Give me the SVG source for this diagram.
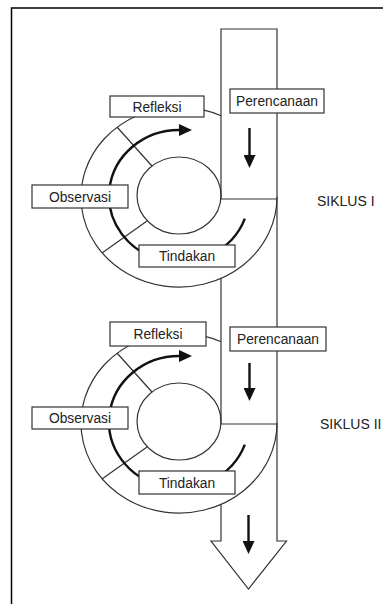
<svg xmlns="http://www.w3.org/2000/svg" width="383" height="604" viewBox="0 0 383 604">
<style>
.ln{fill:none;stroke:#333;stroke-width:1.2}
.box{fill:#fff;stroke:#333;stroke-width:1.2}
.txt{font-family:"Liberation Sans",Arial,sans-serif;font-size:13.8px;fill:#222;text-anchor:middle}
.lab{font-family:"Liberation Sans",Arial,sans-serif;font-size:14px;fill:#222}
.thick{fill:none;stroke:#111;stroke-width:2.4}
</style>
<defs>
<marker id="ah" viewBox="0 0 13 12" refX="0" refY="6" markerWidth="13" markerHeight="12" markerUnits="userSpaceOnUse" orient="auto">
<path d="M0,0 L13,6 L0,12 z" fill="#111"/>
</marker>
</defs>
<rect x="0" y="0" width="383" height="604" fill="#fff"/>
<path d="M11.5 604 V8 H383" fill="none" stroke="#000" stroke-width="1.5"/>
<g id="band" class="ln">
<path d="M221 199 V29 H277 V541 H286.5 L248.5 589 L211 541 H221 V504.3"/>
<path d="M221 278 V424"/>
<path d="M221 199 H277"/>
<path d="M221 424 H277"/>
</g>
<g id="cycle1-ring" class="ln">
<path d="M221 115.7 A98 90 0 1 0 277 197"/>
<ellipse cx="179" cy="195.5" rx="42" ry="38.5"/>
<path d="M117 127 L152 166"/>
<path d="M102 253 L147 221"/>
</g>
<g id="cycle2-ring" class="ln">
<path d="M221 341.7 A98 90 0 1 0 277 423"/>
<ellipse cx="179" cy="421.5" rx="42" ry="38.5"/>
<path d="M117 353 L152 392"/>
<path d="M102 479 L147 447"/>
</g>
<g id="connectors">
<path class="thick" d="M244.8 218.6 A70 66 0 1 1 179 130" marker-end="url(#ah)"/>
<path class="thick" d="M244.8 444.6 A70 66 0 1 1 179 356" marker-end="url(#ah)"/>
<path class="thick" d="M249.5 128 V155" marker-end="url(#ah)"/>
<path class="thick" d="M249.5 363 V388" marker-end="url(#ah)"/>
<path class="thick" d="M248.5 515 V541" marker-end="url(#ah)"/>
</g>
<g id="refleksi1"><rect class="box" x="110" y="96" width="94" height="21"/><text class="txt" x="157" y="111.5">Refleksi</text></g>
<g id="perencanaan1"><rect class="box" x="230" y="89" width="94" height="24"/><text class="txt" x="277" y="106">Perencanaan</text></g>
<g id="observasi1"><rect class="box" x="32" y="185" width="96" height="23"/><text class="txt" x="80" y="201.5">Observasi</text></g>
<g id="tindakan1"><rect class="box" x="139" y="245" width="96" height="22"/><text class="txt" x="187" y="261">Tindakan</text></g>
<g id="refleksi2"><rect class="box" x="110" y="322" width="96" height="24"/><text class="txt" x="158" y="339">Refleksi</text></g>
<g id="perencanaan2"><rect class="box" x="230" y="327" width="96" height="24"/><text class="txt" x="278" y="344">Perencanaan</text></g>
<g id="observasi2"><rect class="box" x="32" y="407" width="96" height="22"/><text class="txt" x="80" y="423">Observasi</text></g>
<g id="tindakan2"><rect class="box" x="139" y="471" width="96" height="23"/><text class="txt" x="187" y="487.5">Tindakan</text></g>
<text class="lab" x="317" y="206">SIKLUS I</text>
<text class="lab" x="320" y="429">SIKLUS II</text>
</svg>
